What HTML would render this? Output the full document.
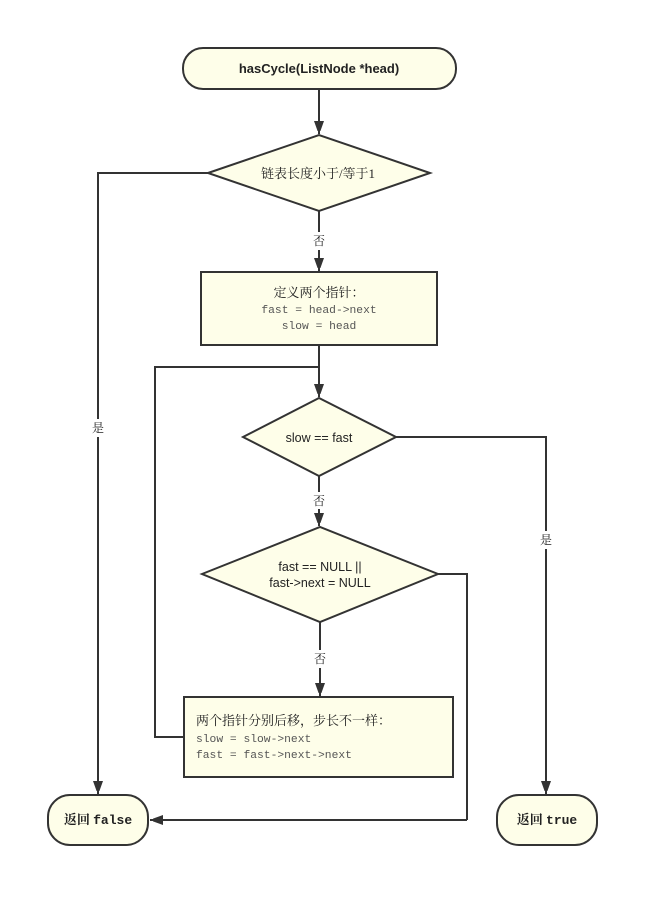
<!DOCTYPE html>
<html><head><meta charset="utf-8"><style>
html,body{margin:0;padding:0;background:#fff;}
svg{display:block;}
.s{font-family:"Liberation Sans","Noto Sans CJK SC",sans-serif;}
.m{font-family:"Liberation Serif","Noto Serif CJK SC",serif;}
.c{font-family:"Liberation Mono",monospace;font-size:11.3px;fill:#555;}
</style></head><body>
<svg width="658" height="906" viewBox="0 0 658 906" xmlns="http://www.w3.org/2000/svg">
<defs><marker id="a" markerWidth="10" markerHeight="14" refX="13" refY="5" orient="auto" markerUnits="userSpaceOnUse"><path d="M0,0 L14,5 L0,10 z" fill="#333"/></marker></defs>
<g fill="#fefee9" stroke="#333" stroke-width="2">
<rect x="183" y="48" width="273" height="41" rx="20"/>
<polygon points="208,173 319,135 430,173 319,211"/>
<rect x="201" y="272" width="236" height="73"/>
<polygon points="243,437 319,398 396,437 319,476"/>
<polygon points="202,574 320,527 438,574 320,622"/>
<rect x="184" y="697" width="269" height="80"/>
<rect x="48" y="795" width="100" height="50" rx="22"/>
<rect x="497" y="795" width="100" height="50" rx="22"/>
</g>
<g fill="none" stroke="#333" stroke-width="2">
<line x1="319" y1="89" x2="319" y2="134" marker-end="url(#a)"/>
<polyline points="319,211 319,232"/><line x1="319" y1="250" x2="319" y2="271" marker-end="url(#a)"/>
<line x1="319" y1="345" x2="319" y2="397" marker-end="url(#a)"/>
<polyline points="184,737 155,737 155,367 319,367"/>
<polyline points="319,476 319,492"/><line x1="319" y1="509" x2="319" y2="526" marker-end="url(#a)"/>
<polyline points="320,622 320,650"/><line x1="320" y1="668" x2="320" y2="696" marker-end="url(#a)"/>
<polyline points="438,574 467,574 467,820" /><line x1="467" y1="820" x2="150" y2="820" marker-end="url(#a)"/>
<polyline points="208,173 98,173 98,419"/><line x1="98" y1="437" x2="98" y2="794" marker-end="url(#a)"/>
<polyline points="396,437 546,437 546,531"/><line x1="546" y1="549" x2="546" y2="794" marker-end="url(#a)"/>
</g>
<g fill="#222" font-size="13">
<text class="s" x="319" y="73" text-anchor="middle" font-weight="bold" font-size="13">hasCycle(ListNode *head)</text>
<text class="m" x="318" y="178" text-anchor="middle">链表长度小于/等于1</text>
<text class="m" x="319" y="245" text-anchor="middle" font-size="12">否</text>
<text class="m" x="319" y="297" text-anchor="middle">定义两个指针：</text>
<text class="c" x="319" y="313" text-anchor="middle">fast = head-&gt;next</text>
<text class="c" x="319" y="329" text-anchor="middle">slow = head</text>
<text class="s" x="319" y="442" text-anchor="middle" font-size="12.5">slow == fast</text>
<text class="m" x="319" y="505" text-anchor="middle" font-size="12">否</text>
<text class="s" x="320" y="571" text-anchor="middle" font-size="12.5">fast == NULL ||</text>
<text class="s" x="320" y="587" text-anchor="middle" font-size="12.5">fast-&gt;next = NULL</text>
<text class="m" x="320" y="663" text-anchor="middle" font-size="12">否</text>
<text class="m" x="196" y="725">两个指针分别后移，步长不一样：</text>
<text class="c" x="196" y="742">slow = slow-&gt;next</text>
<text class="c" x="196" y="758">fast = fast-&gt;next-&gt;next</text>
<text class="m" x="98" y="432" text-anchor="middle" font-size="12">是</text>
<text class="m" x="546" y="544" text-anchor="middle" font-size="12">是</text>
<text class="m" x="98" y="824" text-anchor="middle" font-weight="bold">返回 <tspan font-family="Liberation Mono,monospace">false</tspan></text>
<text class="m" x="547" y="824" text-anchor="middle" font-weight="bold">返回 <tspan font-family="Liberation Mono,monospace">true</tspan></text>
</g>
</svg>
</body></html>
